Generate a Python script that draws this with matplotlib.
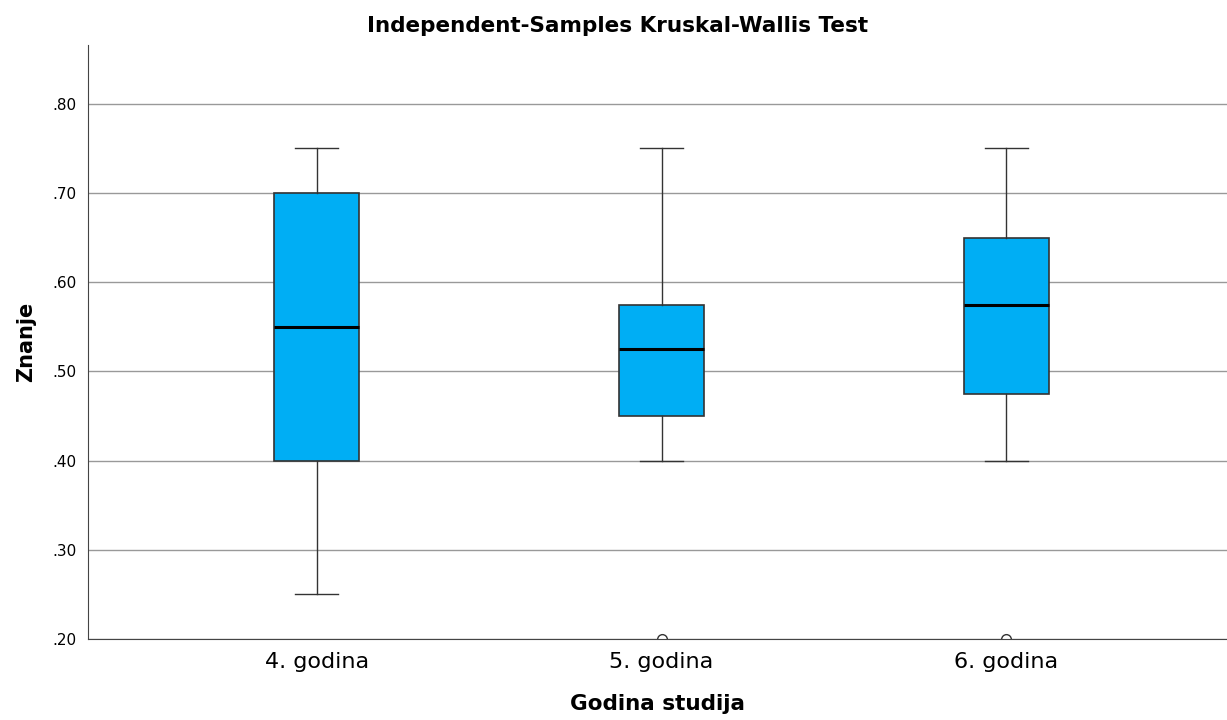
import matplotlib
matplotlib.use('Agg')
import matplotlib.pyplot as plt

# box statistics
groups = ['4. godina', '5. godina', '6. godina']
whislo = [0.25, 0.40, 0.40]
q1 = [0.40, 0.45, 0.475]
med = [0.55, 0.525, 0.575]
q3 = [0.70, 0.575, 0.65]
whishi = [0.75, 0.75, 0.75]
outliers = [[], [0.20], [0.20]]
yticks = [0.20, 0.30, 0.40, 0.50, 0.60, 0.70, 0.80]

stats = []
for i, g in enumerate(groups):
    stats.append({'label': g, 'whislo': whislo[i], 'q1': q1[i], 'med': med[i],
                  'q3': q3[i], 'whishi': whishi[i], 'fliers': outliers[i]})

fig = plt.figure(figsize=(12.27, 7.2), dpi=100)
ax = fig.add_axes([0.0717, 0.1125, 0.9283, 0.825])

ax.bxp(stats, positions=range(len(groups)), widths=0.246, patch_artist=True,
       boxprops=dict(facecolor='#00aef4', edgecolor='#333333', linewidth=1.2),
       medianprops=dict(color='black', linewidth=2.2),
       whiskerprops=dict(color='#333333', linewidth=1),
       capprops=dict(color='#333333', linewidth=1),
       capwidths=0.125,
       flierprops=dict(marker='o', markerfacecolor='white',
                       markeredgecolor='#333333', markersize=7))

ax.set_ylim(0.20, 0.866)
ax.set_xlim(-0.664, 2.64)
ax.set_yticks(yticks)
ax.set_yticklabels(['.%02d' % round(v * 100) for v in yticks], fontsize=11)
ax.set_xticks(range(len(groups)))
ax.set_xticklabels(groups, fontsize=16)
ax.tick_params(axis='y', length=0, pad=8)
ax.tick_params(axis='x', length=0, pad=9)
ax.yaxis.grid(True, color='#999999', linewidth=1)
ax.set_axisbelow(True)
for side in ['top', 'right']:
    ax.spines[side].set_visible(False)
for side in ['left', 'bottom']:
    ax.spines[side].set_color('#444444')

ax.set_xlabel('Godina studija', fontsize=15.5, fontweight='bold', labelpad=16)
ax.set_ylabel('Znanje', fontsize=15, fontweight='bold', labelpad=12)
fig.suptitle('Independent-Samples Kruskal-Wallis Test', fontsize=15.5,
             fontweight='bold', x=0.503, y=0.978)

fig.savefig('out.png', dpi=100)
